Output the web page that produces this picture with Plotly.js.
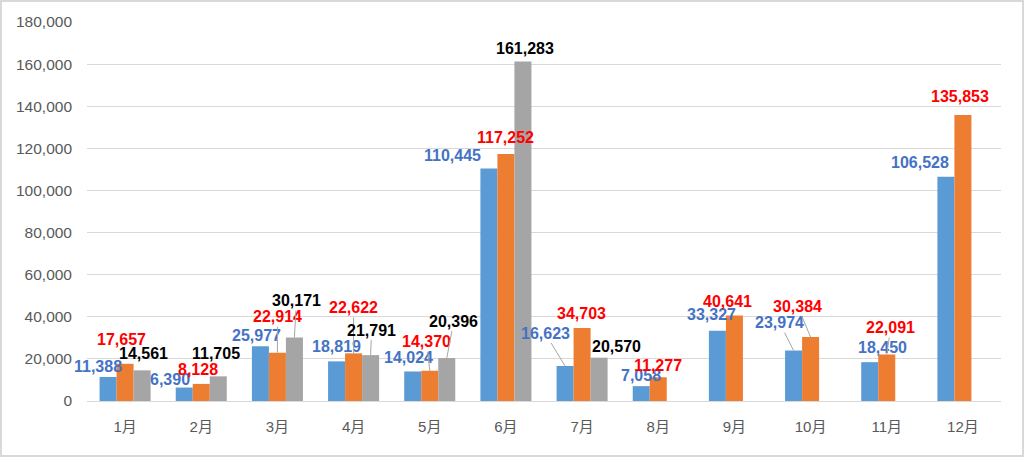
<!DOCTYPE html>
<html>
<head>
<meta charset="utf-8">
<script src="https://cdn.plot.ly/plotly-3.0.1.min.js"></script>
<style>
  html, body { margin: 0; padding: 0; background: #fff; }
  #chart { width: 1020px; height: 453px; border: 2px solid #d9d9d9; }
</style>
</head>
<body>
<div id="chart"></div>
<script>
// monthly values
const months = ['1月', '2月', '3月', '4月', '5月', '6月', '7月', '8月', '9月', '10月', '11月', '12月'];
const seriesA = [11388, 6390, 25977, 18819, 14024, 110445, 16623, 7058, 33327, 23974, 18450, 106528];
const seriesB = [17657, 8128, 22914, 22622, 14370, 117252, 34703, 11277, 40641, 30384, 22091, 135853];
const seriesC = [14561, 11705, 30171, 21791, 20396, 161283, 20570, null, null, null, null, null];

// label placement (pixel offset from bar top) and whether a leader line is drawn
const offsetA = [[-10, -11], [-14, -8], [-4, -11], [0, -15], [-4, -14], [-36, -13],
                 [-20, -33], [0, -11], [-6, -16], [-14, -28], [13, -15], [-26, -14]];
const leaderA = [0, 0, 0, 0, 0, 0, 1, 0, 0, 1, 0, 0];
const offsetB = [[-4, -24], [-3, -14], [0, -36], [0, -46], [-3, -29], [0, -17],
                 [-1, -14], [0, -12], [-7, -14], [-13, -31], [4, -27], [-3, -18]];
const leaderB = [0, 0, 1, 1, 1, 0, 0, 0, 0, 1, 1, 0];
const offsetC = [[1, -17], [-2, -23], [2, -37], [1, -25], [7, -37], [2, -13], [17, -11]];
const leaderC = [0, 0, 1, 1, 1, 0, 0];

const BAR_COLORS = ['#5B9BD5', '#ED7D31', '#A5A5A5'];
const LABEL_COLORS = ['#4472C4', '#FF0000', '#000000'];
const FONT = '"Liberation Sans", "Noto Sans CJK JP", sans-serif';

const W = 1020, H = 453;
const margin = { l: 85, r: 21, t: 20, b: 54 };
const bargap = 0.33;
const barPx = ((W - margin.l - margin.r) / months.length) * (1 - bargap) / 3;

const series = [
  { name: '系列1', y: seriesA, off: offsetA, lead: leaderA },
  { name: '系列2', y: seriesB, off: offsetB, lead: leaderB },
  { name: '系列3', y: seriesC, off: offsetC, lead: leaderC }
];

const data = series.map((s, i) => ({
  type: 'bar',
  name: s.name,
  x: months,
  y: s.y,
  marker: { color: BAR_COLORS[i] },
  hoverinfo: 'skip'
}));

const annotations = [];
series.forEach((s, i) => {
  s.y.forEach((v, j) => {
    if (v == null) return;
    const [dx, dy] = s.off[j];
    annotations.push({
      x: months[j], y: v, xref: 'x', yref: 'y',
      xshift: (i - 1) * barPx,
      text: v.toLocaleString('en-US'),
      showarrow: true, ax: dx, ay: dy,
      arrowhead: 0, arrowwidth: 1, standoff: 0,
      arrowcolor: s.lead[j] ? '#A6A6A6' : 'rgba(0,0,0,0)',
      font: { family: FONT, size: 16, color: LABEL_COLORS[i], weight: 700 }
    });
  });
});

const layout = {
  width: W, height: H,
  margin: margin,
  paper_bgcolor: '#fff',
  plot_bgcolor: '#fff',
  showlegend: false,
  barmode: 'group',
  bargap: bargap,
  bargroupgap: 0,
  font: { family: FONT, color: '#595959' },
  xaxis: {
    type: 'category',
    range: [-0.5, months.length - 0.5],
    automargin: false,
    showline: true, linecolor: '#D9D9D9', linewidth: 1,
    showgrid: false, ticks: '',
    tickfont: { family: FONT, size: 15, color: '#595959' },
    ticklabelstandoff: 12
  },
  yaxis: {
    range: [0, 180000], dtick: 20000, tickformat: ',d',
    automargin: false,
    showgrid: true, gridcolor: '#D9D9D9', gridwidth: 1,
    zeroline: false, showline: false, ticks: '',
    tickfont: { family: FONT, size: 15.5, color: '#595959' },
    ticklabelstandoff: 14
  },
  annotations: annotations
};

Plotly.newPlot('chart', data, layout, { displayModeBar: false, staticPlot: true });
</script>
</body>
</html>
